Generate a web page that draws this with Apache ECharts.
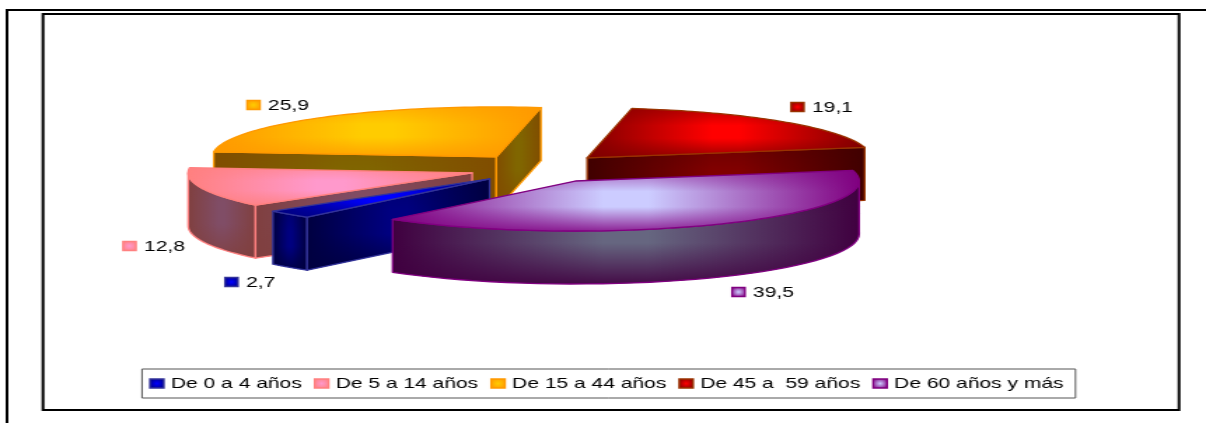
<!DOCTYPE html>
<html><head><meta charset="utf-8">
<style>
html,body{margin:0;padding:0;background:#fff;overflow:hidden;width:1206px;height:423px}
#c{width:861px;height:423px;transform-origin:0 0;transform:scaleX(1.4007)}
</style>
<script src="https://cdn.jsdelivr.net/npm/echarts@6/dist/echarts.min.js"></script>
</head><body><div id="c"></div>
<script>
const categories = ['De 0 a 4 años','De 5 a 14 años','De 15 a 44 años','De 45 a  59 años','De 60 años y más'];
const values = [2.7,12.8,25.9,19.1,39.5];
// palette: [centre, edge, border]
const faceCentre = ['#0000FF','#FF99CC','#FFCC00','#FF0000','#CCCCFF'];
const faceEdge   = ['#000080','#FF8080','#FF9900','#800000','#800080'];
const borders    = ['#333399','#FF8080','#FF9900','#993300','#800080'];
const drawOrder  = [3,2,0,1,4];       // painter's order z per slice
const SX = 1.4007;                    // page is stretched horizontally
const labelAt = [[225,282],[123,246],[247,105],[791,107],[732,292]];

const cx=539/SX, cy=168.5, rx=284/SX, ry=50, ex=70/SX, ey=14.6, depth=53;
const firstAngle=130;                 // degrees, clockwise on screen
const total=values.reduce((a,b)=>a+b,0);

function shade(hex,f){
  const n=parseInt(hex.slice(1),16);
  const c=[n>>16&255,n>>8&255,n&255].map(v=>Math.round(v*f));
  return `rgb(${c[0]},${c[1]},${c[2]})`;
}
function rgba(hex,f,a){
  const n=parseInt(hex.slice(1),16);
  const c=[n>>16&255,n>>8&255,n&255].map(v=>Math.round(v*f));
  return `rgba(${c[0]},${c[1]},${c[2]},${a})`;
}
function hGrad(c,e,f){return new echarts.graphic.LinearGradient(0,0,1,0,[
  {offset:0,color:shade(e,f)},{offset:.45,color:shade(c,f)},{offset:.55,color:shade(c,f)},{offset:1,color:shade(e,f)}]);}
function vGrad(e,f,topA,botA){return new echarts.graphic.LinearGradient(0,0,0,1,[
  {offset:0,color:rgba(e,f,topA)},{offset:.35,color:rgba(e,f,0)},{offset:.6,color:rgba(e,f,0)},{offset:1,color:rgba(e,f,botA)}]);}
function keyGrad(i){return new echarts.graphic.RadialGradient(.5,.5,.6,[
  {offset:0,color:faceCentre[i]},{offset:1,color:faceEdge[i]}]);}

function poly(points,i,f){
  const top=f===1?.55:.25, bot=f===1?.85:.9;
  return [
    {type:'polygon',shape:{points},style:{fill:hGrad(faceCentre[i],faceEdge[i],f),stroke:null}},
    {type:'polygon',shape:{points},style:{fill:vGrad(faceEdge[i],f,top,bot),stroke:borders[i],lineWidth:1.3,lineJoin:'round'}}
  ];
}
function renderSlice(params,api){
  const i=params.seriesIndex, v=api.value(0);
  let before=0; for(let k=0;k<i;k++) before+=values[k];
  const a0=firstAngle+before/total*360, a1=a0+v/total*360, mid=(a0+a1)/2;
  const rad=d=>d*Math.PI/180;
  const ax=cx+ex*Math.cos(rad(mid)), ay=cy+ey*Math.sin(rad(mid));
  const P=d=>[ax+rx*Math.cos(rad(d)),ay+ry*Math.sin(rad(d))];
  const down=p=>[p[0],p[1]+depth];
  const ch=[];
  // outer wall: only the part facing the viewer (sin>0)
  const ranges=[];
  for(let k=-1;k<=1;k++){const s=Math.max(a0,k*360),e=Math.min(a1,k*360+180); if(e>s) ranges.push([s,e]);}
  ranges.forEach(([s,e])=>{
    const top=[],n=40; for(let k=0;k<=n;k++) top.push(P(s+(e-s)*k/n));
    ch.push(...poly(top.concat(top.slice().reverse().map(down)),i,.5));
  });
  // radial cut faces
  if(Math.cos(rad(a0))<0){const p=P(a0);ch.push(...poly([[ax,ay],p,down(p),[ax,ay+depth]],i,.5));}
  if(Math.cos(rad(a1))>0){const p=P(a1);ch.push(...poly([[ax,ay],p,down(p),[ax,ay+depth]],i,.5));}
  // top face
  const top=[[ax,ay]],n=60; for(let k=0;k<=n;k++) top.push(P(a0+(a1-a0)*k/n));
  ch.push(...poly(top,i,1));
  // data label with legend key
  const [lx,ly]=labelAt[i];
  ch.push({type:'rect',shape:{x:lx/SX,y:ly-4.5,width:13/SX,height:9},style:{fill:keyGrad(i),stroke:borders[i],lineWidth:1.3}});
  ch.push({type:'text',x:(lx+21)/SX,y:ly+1,style:{text:String(v).replace('.',','),fill:'#000',font:'15px "Liberation Sans"',textAlign:'left',textVerticalAlign:'middle'}});
  return {type:'group',children:ch};
}
const chart=echarts.init(document.getElementById('c'),null,{renderer:'canvas'});
chart.setOption({
  animation:false,
  backgroundColor:'#fff',
  legend:{
    left:142/SX, top:369, selectedMode:false, icon:'rect',
    itemWidth:14/SX, itemHeight:9, itemGap:12/SX,
    padding:[7,12/SX,7,7/SX], backgroundColor:'#fff', borderColor:'#555', borderWidth:1,
    textStyle:{color:'#000',fontFamily:'"Liberation Sans"',fontSize:15,padding:[0,0,0,0]},
    data:categories.map((name,i)=>({name,itemStyle:{color:keyGrad(i),borderColor:borders[i],borderWidth:1.3}}))
  },
  graphic:[
    {type:'polyline',silent:true,shape:{points:[[7/SX,423],[7/SX,10],[861,10]]},style:{stroke:'#000',lineWidth:2,fill:null}},
    {type:'rect',silent:true,shape:{x:43/SX,y:14,width:(1179-43)/SX,height:396},style:{stroke:'#000',lineWidth:2,fill:null}}
  ],
  series:categories.map((name,i)=>({
    type:'custom',name,coordinateSystem:'none',z:drawOrder[i]+2,
    renderItem:renderSlice,silent:true,
    data:[[values[i]]]
  }))
});
</script></body></html>
